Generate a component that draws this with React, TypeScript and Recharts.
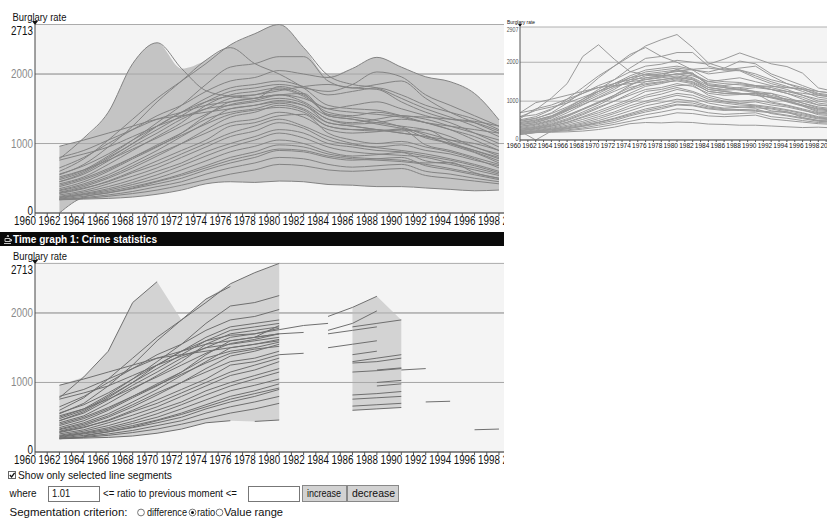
import React from "react";
import { ComposedChart, LineChart, Line, Area, XAxis, YAxis, CartesianGrid, ReferenceLine } from "recharts";

// years 1960..2000, step 2
const YEARS = [1960, 1962, 1964, 1966, 1968, 1970, 1972, 1974, 1976, 1978, 1980, 1982, 1984, 1986, 1988, 1990, 1992, 1994, 1996, 1998, 2000];

const S01 = [700, 780, 1080, 1450, 2150, 2450, 2080, 1760, 1680, 1650, 1820, 1720, 1420, 1380, 1330, 1240, 1120, 980, 870, 720, 680];
const S02 = [520, 600, 780, 1050, 1350, 1650, 1900, 2150, 2420, 2580, 2713, 2380, 1980, 1850, 1800, 1650, 1500, 1380, 1250, 1100, 1050];
const S03 = [480, 550, 700, 950, 1250, 1600, 1900, 2200, 2380, 2150, 2000, 1800, 1550, 1500, 1480, 1400, 1300, 1200, 1100, 950, 900];
const S04 = [450, 500, 620, 820, 1050, 1300, 1550, 1850, 2100, 2150, 2250, 2250, 1900, 1800, 1850, 1900, 1650, 1450, 1300, 1150, 1100];
const S05 = [600, 650, 800, 1000, 1200, 1400, 1550, 1750, 1900, 1950, 2050, 2000, 1950, 2080, 2240, 2100, 1960, 1890, 1720, 1340, 1250];
const S06 = [400, 450, 580, 780, 1000, 1200, 1400, 1600, 1750, 1800, 1850, 1800, 1750, 1850, 2030, 1960, 1700, 1550, 1400, 1250, 1200];
const S07 = [350, 420, 520, 700, 900, 1100, 1300, 1550, 1700, 1750, 1800, 1700, 1500, 1550, 1600, 1500, 1400, 1300, 1150, 1000, 950];
const S08 = [380, 450, 560, 750, 960, 1150, 1350, 1500, 1650, 1700, 1780, 1680, 1450, 1400, 1450, 1400, 1380, 1350, 1320, 1250, 1200];
const S09 = [300, 350, 450, 600, 780, 950, 1150, 1400, 1600, 1650, 1700, 1600, 1400, 1350, 1300, 1250, 1200, 1100, 950, 850, 800];
const S10 = [280, 330, 420, 550, 720, 900, 1100, 1300, 1500, 1550, 1620, 1550, 1350, 1280, 1300, 1350, 1300, 1200, 1050, 900, 860];
const S11 = [320, 380, 480, 620, 800, 980, 1150, 1350, 1450, 1500, 1580, 1500, 1300, 1250, 1200, 1150, 1100, 1000, 900, 800, 760];
const S12 = [250, 300, 380, 500, 650, 820, 1000, 1200, 1380, 1450, 1550, 1480, 1250, 1200, 1180, 1210, 1080, 1000, 880, 750, 720];
const S13 = [270, 320, 400, 520, 680, 850, 1000, 1150, 1300, 1350, 1450, 1380, 1200, 1150, 1170, 1200, 980, 900, 800, 700, 680];
const S14 = [230, 280, 350, 460, 600, 750, 900, 1050, 1250, 1300, 1400, 1420, 1150, 1050, 1000, 1030, 950, 880, 780, 650, 620];
const S15 = [240, 290, 360, 450, 580, 700, 850, 1000, 1150, 1250, 1350, 1250, 1100, 1000, 950, 980, 900, 850, 760, 680, 650];
const S16 = [210, 260, 320, 420, 530, 650, 800, 950, 1100, 1180, 1300, 1220, 1050, 980, 940, 900, 850, 780, 700, 600, 580];
const S17 = [200, 240, 300, 380, 480, 600, 720, 880, 1000, 1100, 1200, 1150, 1000, 950, 900, 880, 820, 760, 680, 580, 560];
const S18 = [190, 230, 280, 350, 440, 550, 680, 820, 950, 1050, 1150, 1080, 950, 880, 850, 830, 800, 720, 650, 560, 540];
const S19 = [180, 220, 270, 330, 410, 500, 620, 750, 880, 960, 1050, 1000, 880, 820, 840, 870, 750, 700, 620, 540, 520];
const S20 = [170, 210, 260, 310, 380, 460, 560, 680, 800, 880, 980, 950, 850, 800, 780, 760, 720, 730, 580, 500, 480];
const S21 = [160, 200, 240, 290, 350, 420, 500, 620, 720, 800, 900, 880, 800, 760, 780, 800, 680, 620, 550, 480, 460];
const S22 = [150, 190, 220, 260, 310, 380, 450, 560, 650, 720, 800, 780, 700, 660, 680, 700, 600, 560, 500, 450, 430];
const S23 = [140, 200, 210, 240, 280, 330, 400, 480, 560, 620, 700, 680, 620, 600, 620, 640, 540, 500, 460, 420, 400];
const S24 = [150, 190, 200, 210, 230, 270, 330, 420, 450, 440, 460, 450, 410, 400, 380, 380, 360, 340, 320, 330, 310];
const S25 = [230, 0, 230, 290, 360, 450, 540, 650, 760, 840, 920, 900, 820, 780, 760, 740, 700, 640, 570, 500, 480];
const S26 = [500, 560, 680, 850, 1050, 1250, 1450, 1650, 1800, 1850, 1900, 1820, 1700, 1750, 1800, 1700, 1550, 1450, 1350, 1200, 1150];
const S27 = [420, 480, 600, 800, 1000, 1250, 1450, 1600, 1680, 1700, 1760, 1820, 1850, 1800, 1780, 1600, 1450, 1350, 1300, 1180, 1120];
const S28 = [550, 800, 900, 1050, 1200, 1350, 1450, 1550, 1600, 1650, 1700, 1650, 1500, 1450, 1420, 1380, 1300, 1250, 1200, 1150, 1100];
const S29 = [700, 960, 1050, 1150, 1250, 1350, 1400, 1450, 1500, 1550, 1600, 1550, 1300, 1250, 1200, 1150, 1100, 1050, 1000, 900, 880];
const S30 = [600, 760, 850, 950, 1100, 1250, 1380, 1500, 1550, 1600, 1650, 1580, 1350, 1300, 1350, 1400, 1350, 1250, 1150, 1050, 1000];
const S31 = [450, 520, 620, 760, 920, 1080, 1250, 1420, 1560, 1620, 1700, 1720, 1400, 1350, 1280, 1220, 1150, 1050, 950, 820, 780];
const S32 = [350, 400, 500, 640, 800, 960, 1120, 1280, 1420, 1480, 1520, 1450, 1250, 1200, 1200, 1180, 1200, 1020, 900, 780, 740];

const SERIES = [S01, S02, S03, S04, S05, S06, S07, S08, S09, S10, S11, S12, S13, S14, S15, S16, S17, S18, S19, S20, S21, S22, S23, S24, S25, S26, S27, S28, S29, S30, S31, S32];

const MAIN_FIRST = 1962;
const MAIN_LAST = 1998;
const MAIN_Y_TICKS = [0, 1000, 2000, 2713];
const SIDE_Y_TICKS = [0, 1000, 2000, 2907];
const RATIO_MIN = 1.01;
const MIN_SEGS_FOR_SHADE = 6;
const ATTR = "Burglary rate";
const WIN_TITLE = "Time graph 1: Crime statistics";

const FONT = "'Liberation Sans', Arial, sans-serif";
const SX = 0.82; // the screenshot's dialog font is narrow
const CX = 0.85; // controls text squeeze
const ALL_YEARS: number[] = [];
for (let y = 1960; y <= 2000; y++) ALL_YEARS.push(y);

// ---- derived tables ----
const mainIdx = YEARS.map((y, i) => i).filter((i) => YEARS[i] >= MAIN_FIRST && YEARS[i] <= MAIN_LAST);

const mainRows = mainIdx.map((i) => {
  const row: any = { year: YEARS[i] };
  const vals = SERIES.map((s) => s[i]);
  SERIES.forEach((s, j) => (row["s" + j] = s[i]));
  row.band = [Math.min(...vals), Math.max(...vals)];
  return row;
});

const sideRows = YEARS.map((year, i) => {
  const row: any = { year };
  SERIES.forEach((s, j) => (row["s" + j] = s[i]));
  return row;
});

// segments where value >= RATIO_MIN * previous value
const segKeys: string[] = [];
const segRows: any[] = mainIdx.map((i) => ({ year: YEARS[i] }));
SERIES.forEach((s, j) => {
  let run = -1;
  let open = false;
  for (let k = 1; k < mainIdx.length; k++) {
    const prev = s[mainIdx[k - 1]];
    const cur = s[mainIdx[k]];
    const sel = prev > 0 && cur >= RATIO_MIN * prev;
    if (sel) {
      if (!open) {
        run++;
        open = true;
        segKeys.push(`b${j}_${run}`);
        segRows[k - 1][`b${j}_${run}`] = prev;
      }
      segRows[k][`b${j}_${run}`] = cur;
    } else open = false;
  }
});
segRows.forEach((row) => {
  const vals = segKeys.map((k) => row[k]).filter((v) => v != null);
  row.band = vals.length >= MIN_SEGS_FOR_SHADE ? [Math.min(...vals), Math.max(...vals)] : null;
});

// narrow text: plain font squeezed horizontally, or fitted to a measured length
function NText({ x, y, size, sx = SX, len, anchor = "start", fill = "#111", bold = false, children }: any) {
  if (len) {
    return (
      <text x={x} y={y} fontSize={size} fontFamily={FONT} fontWeight={bold ? "bold" : "normal"} textAnchor={anchor}
        fill={fill} textLength={len} lengthAdjust="spacingAndGlyphs">
        {children}
      </text>
    );
  }
  return (
    <text
      transform={`translate(${x} ${y}) scale(${sx} 1)`}
      x={0}
      y={0}
      fontSize={size}
      fontFamily={FONT}
      fontWeight={bold ? "bold" : "normal"}
      textAnchor={anchor}
      fill={fill}
    >
      {children}
    </text>
  );
}

// ---- ticks ----
function YearTick(props: any) {
  const { x, y, payload, size, tick } = props;
  const v = payload.value;
  return (
    <g>
      <line x1={x} x2={x} y1={y} y2={y + tick} stroke="#555" />
      {v % 2 === 0 && (
        <NText x={x + 1} y={y + size} size={size} anchor="end">
          {v}
        </NText>
      )}
    </g>
  );
}

function MainYTick(props: any) {
  const { x, y, payload, top } = props;
  const v = payload.value;
  const isTop = v === top;
  const dy = isTop ? 10.5 : v === 0 ? 1.5 : 4;
  return (
    <NText x={x - 2} y={y + dy} size={12} anchor="end" fill={isTop || v === 0 ? "#111" : "#8a8a8a"}>
      {v}
    </NText>
  );
}

function SideYTick(props: any) {
  const { x, y, payload, top } = props;
  const v = payload.value;
  const dy = v === top ? 4.5 : v === 0 ? 1 : 2;
  return (
    <NText x={x - 1.5} y={y + dy} size={6.5} anchor="end" fill="#555">
      {v}
    </NText>
  );
}

function MainChart() {
  return (
    <ComposedChart width={530} height={230} data={mainRows} margin={{ top: 24.5, right: 6.6, left: 0, bottom: 0 }}>
      <CartesianGrid horizontal={true} vertical={false} stroke="#ababab" fill="#f4f4f4" />
      <XAxis
        dataKey="year"
        type="number"
        domain={[1960, 2000]}
        ticks={ALL_YEARS}
        interval={0}
        height={17}
        tickSize={0}
        tickMargin={0}
        tickLine={false}
        axisLine={{ stroke: "#444" }}
        tick={<YearTick size={12} tick={3} />}
      />
      <YAxis
        type="number"
        domain={[0, 2713]}
        ticks={MAIN_Y_TICKS}
        width={35}
        tickSize={0}
        tickMargin={0}
        tickLine={false}
        axisLine={{ stroke: "#444" }}
        tick={<MainYTick top={2713} />}
      />
      <Area dataKey="band" type="monotone" fill="#c4c4c4" fillOpacity={1} stroke="none" isAnimationActive={false} />
      <ReferenceLine y={1000} stroke="#a8a8a8" />
      <ReferenceLine y={2000} stroke="#a8a8a8" />
      {SERIES.map((s, j) => (
        <Line key={j} dataKey={"s" + j} type="monotone" stroke="#838383" strokeWidth={1} dot={false} isAnimationActive={false} />
      ))}
    </ComposedChart>
  );
}

function SegmentChart() {
  return (
    <ComposedChart width={530} height={222} data={segRows} margin={{ top: 15.4, right: 6.6, left: 0, bottom: 0 }}>
      <CartesianGrid horizontal={true} vertical={false} stroke="#ababab" fill="#f4f4f4" />
      <XAxis
        dataKey="year"
        type="number"
        domain={[1960, 2000]}
        ticks={ALL_YEARS}
        interval={0}
        height={18}
        tickSize={0}
        tickMargin={0}
        tickLine={false}
        axisLine={{ stroke: "#444" }}
        tick={<YearTick size={12} tick={3} />}
      />
      <YAxis
        type="number"
        domain={[0, 2713]}
        ticks={MAIN_Y_TICKS}
        width={35}
        tickSize={0}
        tickMargin={0}
        tickLine={false}
        axisLine={{ stroke: "#444" }}
        tick={<MainYTick top={2713} />}
      />
      <Area dataKey="band" type="linear" fill="#d3d3d3" fillOpacity={1} stroke="none" connectNulls={false} isAnimationActive={false} />
      <ReferenceLine y={1000} stroke="#a8a8a8" />
      <ReferenceLine y={2000} stroke="#a8a8a8" />
      {segKeys.map((k) => (
        <Line key={k} dataKey={k} type="linear" stroke="#6f6f6f" strokeWidth={1} dot={false} connectNulls={false} isAnimationActive={false} />
      ))}
    </ComposedChart>
  );
}

function SideChart() {
  return (
    <LineChart width={340} height={150} data={sideRows} margin={{ top: 27, right: 11, left: 0, bottom: 0 }}>
      <CartesianGrid horizontal={true} vertical={false} stroke="#b0b0b0" fill="#f4f4f4" />
      <XAxis
        dataKey="year"
        type="number"
        domain={[1960, 2000]}
        ticks={ALL_YEARS}
        interval={0}
        height={10}
        tickSize={0}
        tickMargin={0}
        tickLine={false}
        axisLine={{ stroke: "#555" }}
        tick={<YearTick size={8} tick={2} />}
      />
      <YAxis
        type="number"
        domain={[0, 2907]}
        ticks={SIDE_Y_TICKS}
        width={15}
        tickSize={0}
        tickMargin={0}
        tickLine={false}
        axisLine={{ stroke: "#555" }}
        tick={<SideYTick top={2907} />}
      />
      {SERIES.map((s, j) => (
        <Line key={j} dataKey={"s" + j} type="linear" stroke="#9a9a9a" strokeWidth={1} dot={false} isAnimationActive={false} />
      ))}
    </LineChart>
  );
}

function Radio({ cx, on }: { cx: number; on?: boolean }) {
  return (
    <g>
      <circle cx={cx} cy={512.5} r={3.4} fill="#fff" stroke="#777" />
      {on && <circle cx={cx} cy={512.5} r={1.5} fill="#111" />}
    </g>
  );
}

function Overlay() {
  return (
    <svg width={827} height={518} style={{ position: "absolute", left: 0, top: 0, pointerEvents: "none" }}>
      {/* chart captions and axis markers */}
      <NText x={12.5} y={20.5} size={11.5}>{ATTR}</NText>
      <polygon points="32,21 38,21 35,25" fill="#111" />
      <NText x={13} y={259.5} size={11.5}>{ATTR}</NText>
      <polygon points="32,260 38,260 35,264" fill="#111" />
      <NText x={507} y={23.5} size={6}>{ATTR}</NText>
      <polygon points="518,24 522,24 520,27" fill="#111" />

      {/* window title bar */}
      <rect x={0} y={232} width={504} height={14} fill="#0a0a0a" />
      <path d="M4 243.5 h7 M5 241.5 h5 v-3 h-5 z M10 239.5 h1.5 v1.5 h-1.5 M7 237 l1 -2 M8.5 237 l-0.5 -2" stroke="#ddd" strokeWidth={0.9} fill="none" />
      <NText x={13} y={242.5} size={11} len={144} bold fill="#fff">{WIN_TITLE}</NText>

      {/* controls */}
      <rect x={8.5} y={471.5} width={7} height={7} fill="#fff" stroke="#666" />
      <path d="M9.8 475 l1.8 1.9 l3 -4" stroke="#111" strokeWidth={1.3} fill="none" />
      <NText x={18} y={479} size={11} len={154}>Show only selected line segments</NText>

      <NText x={9.5} y={497} size={11} len={27}>where</NText>
      <rect x={48.5} y={486.5} width={51} height={15} fill="#fff" stroke="#777" />
      <NText x={52} y={497} size={11} sx={CX}>1.01</NText>
      <NText x={103} y={497} size={11} len={134}>{"<= ratio to previous moment <="}</NText>
      <rect x={248.5} y={486.5} width={51} height={15} fill="#fff" stroke="#777" />
      <rect x={302.5} y={485.5} width={44} height={16} fill="#d2d2d2" stroke="#888" />
      <NText x={307} y={497} size={11} len={34}>increase</NText>
      <rect x={347.5} y={485.5} width={51} height={16} fill="#d2d2d2" stroke="#888" />
      <NText x={352} y={497} size={11} len={43}>decrease</NText>

      <NText x={9.5} y={516} size={11} len={118}>Segmentation criterion:</NText>
      <Radio cx={141} />
      <NText x={147} y={516} size={11} len={40}>difference</NText>
      <Radio cx={192.5} on />
      <NText x={197} y={516} size={11} sx={CX}>ratio</NText>
      <Radio cx={219.5} />
      <NText x={224} y={516} size={11} len={59}>Value range</NText>
    </svg>
  );
}

export default function App() {
  return (
    <div style={{ position: "fixed", left: 0, top: 0, width: 827, height: 518, overflow: "hidden", background: "#fff" }}>
      <div style={{ position: "absolute", left: 0, top: 0, width: 504, height: 230, overflow: "hidden" }}>
        <MainChart />
      </div>
      <div style={{ position: "absolute", left: 0, top: 248, width: 504, height: 222, overflow: "hidden" }}>
        <SegmentChart />
      </div>
      <div style={{ position: "absolute", left: 505, top: 0, width: 322, height: 150, overflow: "hidden" }}>
        <SideChart />
      </div>
      <Overlay />
    </div>
  );
}
